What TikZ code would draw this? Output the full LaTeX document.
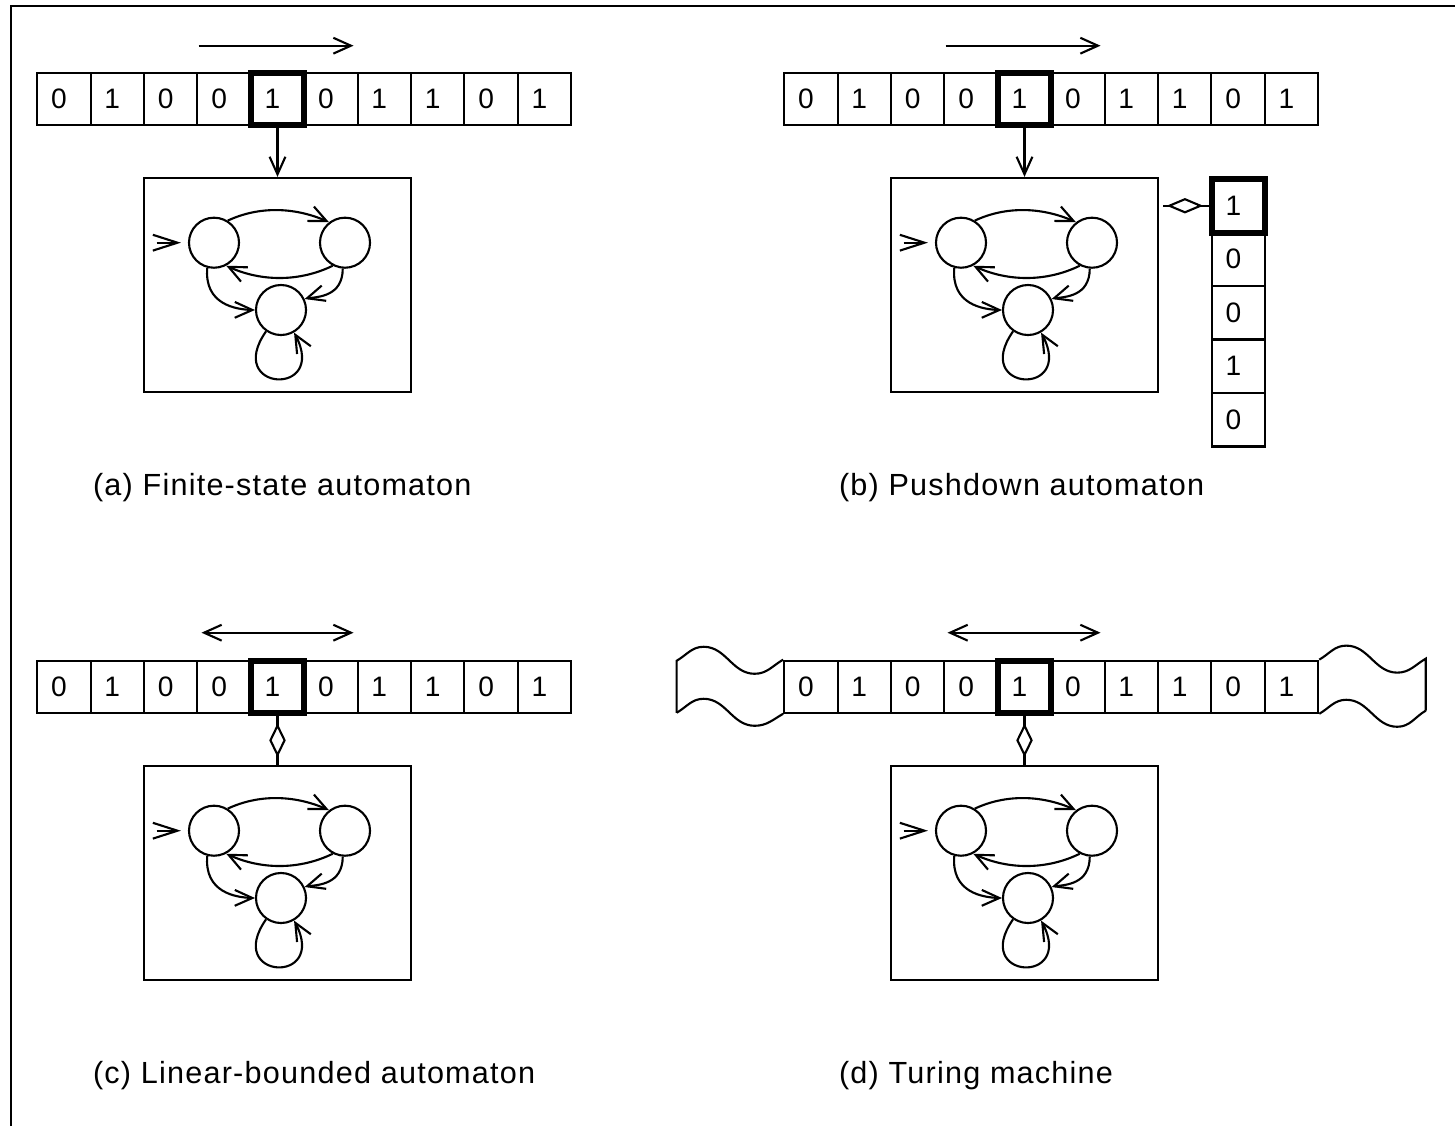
\documentclass[tikz,border=0pt]{standalone}
\usepackage{fontspec}
\usetikzlibrary{arrows.meta,bending,shapes.geometric}
\newfontfamily\tapefont{Liberation Sans}
\newfontfamily\capfont[LetterSpace=4]{Liberation Sans}
\tikzset{
	cell/.style={draw,rectangle,inner sep=0pt,minimum width=0.534cm,minimum height=0.52cm,font=\tapefont\fontsize{8}{9}\selectfont},
	headcell/.style={cell,line width=1.7pt},
	state/.style={draw,circle,inner sep=0pt,minimum size=0.5cm},
	ctrl/.style={draw,rectangle,inner sep=0pt,minimum width=2.67cm,minimum height=2.14cm},
	rw/.style={draw,diamond,fill=white,inner sep=0pt,minimum width=0.15cm,minimum height=0.3cm},
	caption/.style={anchor=base west,inner sep=0pt,font=\capfont\fontsize{8.7}{10}\selectfont},
	tapestrip/.pic={
		\foreach \d [count=\i from 0] in {0,1,0,0,1,0,1,1,0,1}
			\node[cell] (-c\i) at ({(\i-4)*53.4},0) {\d\kern1mm};
		\node[headcell] (-head) at (-c4) {};
	},
	machine/.pic={
		\node[ctrl] (-box) at (0,0) {};
		\node[state] (-s1) at (-63.5,42.3) {};
		\node[state] (-s2) at (67.5,42.3) {};
		\node[state] (-s3) at (3.5,-25) {};
		\coordinate (-init) at (-121,42.3);
		\draw[-{Straight Barb[length=7pt,width=4.5pt]},shorten >=0.07cm] (-init) -- (-s1);
		\draw[->] (-s1.58) to[out=25,in=155,looseness=0.9] (-s2.128);
		\draw[->] (-s2.242) to[out=206,in=334,looseness=0.9] (-s1.298);
		\draw[->] (-s1.255) to[out=265,in=180,looseness=1.2] (-s3);
		\draw[->] (-s2.265) to[out=270,in=25,looseness=1.1] (-s3);
		\draw[->] (-s3.235) to[out=235,in=300,min distance=0.75cm] (-s3.300);
	}
}
\begin{document}
\begin{tikzpicture}[x=0.01cm,y=0.01cm,line width=0.6pt,>={Straight Barb[length=5pt,width=4.5pt]}]
	\useasboundingbox (0,0) rectangle (1455,1126);
	\draw[line width=0.85pt] (11,0) -- (11,1120) -- (1455,1120);

	\pic (a) at (277.5,1027.3) {tapestrip};
	\pic (a) at (277.5,841) {machine};
	\coordinate (a-mvl) at ([shift={(-79,53)}]a-head.center);
	\coordinate (a-mvr) at ([shift={(76,53)}]a-head.center);
	\draw[->] (a-mvl) -- (a-mvr);
	\draw[->] (a-head) -- (a-box);

	\pic (b) at (1024.5,1027.3) {tapestrip};
	\pic (b) at (1024.5,841) {machine};
	\coordinate (b-mvl) at ([shift={(-79,53)}]b-head.center);
	\coordinate (b-mvr) at ([shift={(76,53)}]b-head.center);
	\draw[->] (b-mvl) -- (b-mvr);
	\draw[->] (b-head) -- (b-box);
	\foreach \d [count=\k from 0] in {1,0,0,1,0}
		\node[cell,minimum height=0.535cm] (b-st\k) at (1238.5,{920.25-53.5*\k}) {\d\kern1mm};
	\node[headcell,minimum height=0.535cm] (b-top) at (b-st0) {};
	\draw[shorten <=0.04cm] (b-box.east |- b-st0) -- (b-st0) node[rw,midway,minimum width=0.32cm,minimum height=0.14cm] (b-rw) {};

	\pic (c) at (277.5,439.3) {tapestrip};
	\pic (c) at (277.5,253) {machine};
	\coordinate (c-mvl) at ([shift={(-76,54)}]c-head.center);
	\coordinate (c-mvr) at ([shift={(76,54)}]c-head.center);
	\draw[<->] (c-mvl) -- (c-mvr);
	\draw (c-head) -- (c-box) node[rw,midway] (c-rw) {};

	\pic (d) at (1024.5,439.3) {tapestrip};
	\pic (d) at (1024.5,253) {machine};
	\coordinate (d-mvl) at ([shift={(-77,54)}]d-head.center);
	\coordinate (d-mvr) at ([shift={(76,54)}]d-head.center);
	\draw[<->] (d-mvl) -- (d-mvr);
	\draw (d-head) -- (d-box) node[rw,midway] (d-rw) {};
	\draw ([shift={(-106.5,1)}]d-c0.south west) -- ++(0,52) to[out=30,in=180] ++(27,14) to[out=0,in=180] ++(51,-27) to[out=0,in=210] (d-c0.north west);
	\draw ([shift={(-106.5,1)}]d-c0.south west) to[out=30,in=180] ++(27,14) to[out=0,in=180] ++(51,-27) to[out=0,in=210] (d-c0.south west);
	\draw (d-c9.north east) to[out=30,in=180] ++(27,14) to[out=0,in=180] ++(51,-27) to[out=0,in=210] ++(28.5,14) -- ++(0,-52) coordinate (d-rb);
	\draw (d-c9.south east) to[out=30,in=180] ++(27,14) to[out=0,in=180] ++(51,-27) to[out=0,in=210] (d-rb);

	\node[caption] (capa) at (92,631) {(a) Finite-state automaton};
	\node[caption] (capb) at (838,631) {(b) Pushdown automaton};
	\node[caption] (capc) at (92,43) {(c) Linear-bounded automaton};
	\node[caption] (capd) at (838,43) {(d) Turing machine};
\end{tikzpicture}
\end{document}
